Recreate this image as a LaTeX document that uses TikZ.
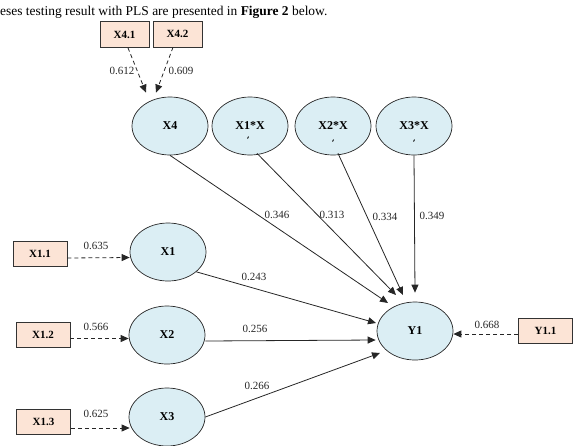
\documentclass[tikz,border=0pt]{standalone}
\usepackage{fontspec}
\setmainfont{Liberation Serif}
\usetikzlibrary{arrows.meta,shapes.geometric}
\definecolor{ellfill}{RGB}{219,238,244}
\definecolor{boxfill}{RGB}{252,228,214}
\begin{document}
\begin{tikzpicture}[x=1pt,y=-1pt,
 lat/.style={ellipse, draw=black!85, line width=0.7pt, fill=ellfill, minimum width=76pt, minimum height=58pt, inner sep=0pt, font=\fontsize{12}{13}\selectfont\bfseries},
 ind/.style={rectangle, draw=black!80, line width=0.7pt, fill=boxfill, minimum width=54pt, minimum height=25pt, inner sep=0pt, font=\fontsize{11}{12}\selectfont\bfseries},
 num/.style={font=\fontsize{11}{12}\selectfont, inner sep=0pt, text=black!85},
 reg/.style={draw=black!85, line width=0.8pt, -{Triangle[length=8pt,width=7pt]}},
 load/.style={reg, dash pattern=on 4pt off 3pt}]
\useasboundingbox (0,0) rectangle (581,445);
\node[anchor=west, inner sep=0pt, font=\fontsize{13.45}{14}\selectfont] (head) at (0,12) {eses testing result with PLS are presented in \textbf{Figure 2} below.};
% latent variables
\node[lat] (X4) at (170,126) {X4};
\node[lat] (X1X) at (250,126) {X1*X};
\node[lat] (X2X) at (333,126) {X2*X};
\node[lat] (X3X) at (414,126) {X3*X};
\node[lat] (X1) at (168,252) {X1};
\node[lat] (X2) at (167,335) {X2};
\node[lat] (X3) at (167,417) {X3};
\node[lat] (Y1) at (415,331) {Y1};
% small marks
\draw[line width=0.9pt] (248.5,136.5) -- (247.5,138.5);
\draw[line width=0.9pt] (333.5,139.5) -- (332.5,141.5);
\draw[line width=0.9pt] (414.5,139.5) -- (413.5,141.5);
% indicators
\node[ind, minimum width=49pt, minimum height=26pt] (X41) at (124.5,34.5) {X4.1};
\node[ind, minimum width=49pt, minimum height=26pt] (X42) at (177.5,34) {X4.2};
\node[ind] (X11) at (40,254) {X1.1};
\node[ind] (X12) at (43,334.5) {X1.2};
\node[ind] (X13) at (43.5,421.5) {X1.3};
\node[ind] (Y11) at (545.5,330.5) {Y1.1};
% loadings
\draw[load] ([xshift=3.5pt]X41.south) -- ([xshift=-24pt,yshift=4pt]X4.north);
\draw[load] ([xshift=-4.5pt]X42.south) -- ([xshift=-14pt,yshift=4pt]X4.north);
\draw[load] ([yshift=-4pt]X11.east) -- ([yshift=-5.5pt]X1.west);
\draw[load] ([yshift=-4pt]X12.east) -- ([yshift=-3.5pt]X2.west);
\draw[load] ([yshift=-6.5pt]X13.east) -- ([xshift=1pt,yshift=-11pt]X3.west);
\draw[load] ([yshift=-3.5pt]Y11.west) -- ([yshift=-3pt]Y1.east);
% structural paths
\draw[reg] (X4.south) -- ([xshift=-27pt,yshift=28pt]Y1.center);
\draw[reg] ([xshift=7pt,yshift=2pt]X1X.south) -- ([xshift=-19pt,yshift=36pt]Y1.center);
\draw[reg] ([xshift=5pt,yshift=2pt]X2X.south) -- ([xshift=-12pt,yshift=36pt]Y1.center);
\draw[reg] (X3X.south) -- ([yshift=9pt]Y1.north);
\draw[reg] (X1.-35) -- ([xshift=-39pt,yshift=8pt]Y1.center);
\draw[reg] ([yshift=-6pt]X2.east) -- ([xshift=-1pt,yshift=-9pt]Y1.west);
\draw[reg] (X3.east) -- ([xshift=-35pt,yshift=-22pt]Y1.center);
% numbers
\node[num] (n1) at (122,71) {0.612};
\node[num] (n2) at (181,71) {0.609};
\node[num] (n3) at (96,246) {0.635};
\node[num] (n4) at (96,327) {0.566};
\node[num] (n5) at (96,414) {0.625};
\node[num] (n6) at (254,277) {0.243};
\node[num] (n7) at (255,329) {0.256};
\node[num] (n8) at (257,386) {0.266};
\node[num] (n9) at (277,215) {0.346};
\node[num] (n10) at (332,215) {0.313};
\node[num] (n11) at (385,217) {0.334};
\node[num] (n12) at (432,216) {0.349};
\node[num] (n13) at (487,325) {0.668};
\end{tikzpicture}
\end{document}
